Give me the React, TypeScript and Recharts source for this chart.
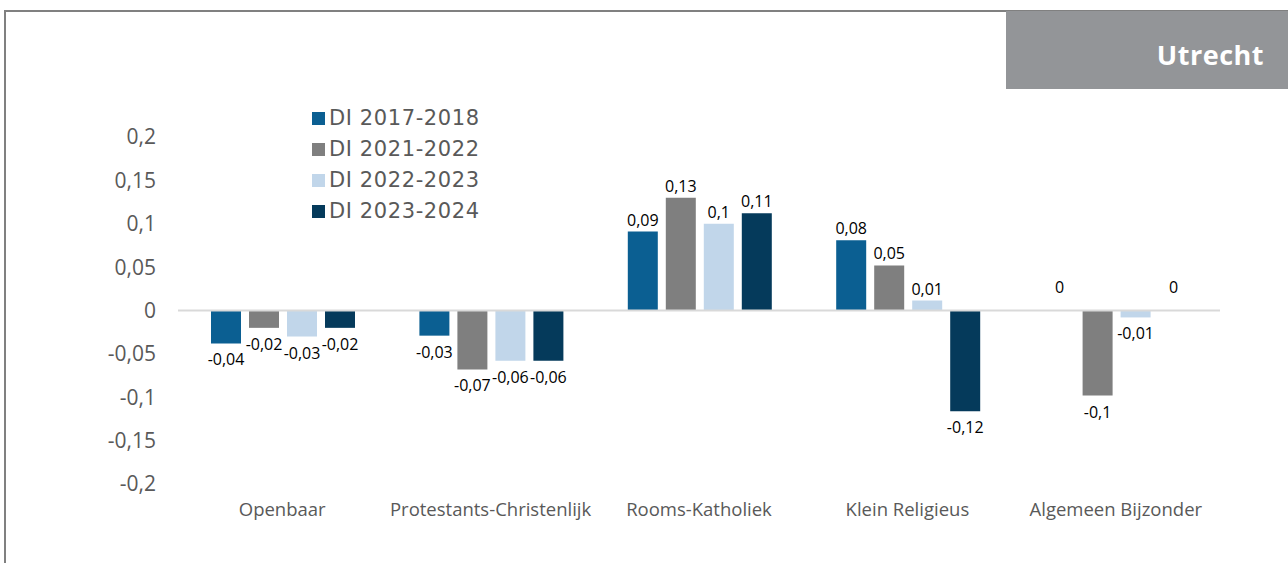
import React from 'react';
import { BarChart, Bar, XAxis, YAxis, ReferenceLine, Legend } from 'recharts';

const categories = ['Openbaar', 'Protestants-Christenlijk', 'Rooms-Katholiek', 'Klein Religieus', 'Algemeen Bijzonder'];
const di20172018 = [-0.038, -0.029, 0.091, 0.081, 0];
const di20212022 = [-0.02, -0.068, 0.13, 0.052, -0.098];
const di20222023 = [-0.03, -0.058, 0.1, 0.0115, -0.008];
const di20232024 = [-0.02, -0.058, 0.112, -0.116, 0];
const seriesNames = ['DI 2017-2018', 'DI 2021-2022', 'DI 2022-2023', 'DI 2023-2024'];
const seriesKeys = ['s1', 's2', 's3', 's4'];
const seriesColors = ['#0B5F92', '#7F7F7F', '#C1D6EA', '#053A5B'];
const yTicks = [0.2, 0.15, 0.1, 0.05, 0, -0.05, -0.1, -0.15, -0.2];
const title = 'Utrecht';

const data = categories.map((name, i) => ({
  name,
  s1: di20172018[i],
  s2: di20212022[i],
  s3: di20222023[i],
  s4: di20232024[i],
}));

const fmt = (v: number) => String(Math.round(v * 100) / 100).replace('.', ',');

const renderLabel = (props: any) => {
  const { x, y, width, height, value } = props;
  if (value === undefined || value === null) return null;
  const top = Math.min(y, y + height);
  const bottom = Math.max(y, y + height);
  const cx = x + width / 2;
  let ty: number;
  if (value > 0) ty = top - 6;
  else if (value < 0) ty = bottom + 22;
  else ty = top - 17.5;
  return (
    <text x={cx} y={ty} textAnchor="middle" fill="#000" fontSize={16} fontFamily="Open Sans">
      {fmt(value)}
    </text>
  );
};

const CategoryTick = (props: any) => {
  const { x, y, payload } = props;
  return (
    <text x={x} y={y + 32} textAnchor="middle" fill="#595959" fontSize={18.5} fontFamily="Open Sans">
      {payload.value}
    </text>
  );
};

const LegendContent = () => (
  <div style={{ display: 'flex', flexDirection: 'column' }}>
    {seriesNames.map((n, i) => (
      <div key={n} style={{ display: 'flex', alignItems: 'center', height: 31 }}>
        <div style={{ width: 13, height: 13, background: seriesColors[i], marginRight: 4 }} />
        <span
          style={{
            fontFamily: 'DejaVu Sans',
            fontSize: 21,
            color: '#595959',
            lineHeight: '31px',
            letterSpacing: 0.6,
          }}
        >
          {n}
        </span>
      </div>
    ))}
  </div>
);

export default function App() {
  return (
    <div style={{ position: 'absolute', left: 0, top: 0, width: 1288, height: 563, background: '#fff', overflow: 'hidden' }}>
      <div style={{ position: 'absolute', left: 4, top: 10, width: 1284, height: 2, background: '#808080' }} />
      <div style={{ position: 'absolute', left: 4, top: 10, width: 2, height: 553, background: '#808080' }} />
      <div
        style={{
          position: 'absolute',
          left: 1006,
          top: 11,
          width: 282,
          height: 78,
          background: '#939598',
        }}
      >
        <span
          style={{
            position: 'absolute',
            right: 24,
            top: 26,
            fontFamily: 'Open Sans',
            fontWeight: 700,
            fontSize: 27,
            lineHeight: '36px',
            color: '#fff',
            letterSpacing: 0.5,
          }}
        >
          {title}
        </span>
      </div>
      <div style={{ position: 'absolute', left: 0, top: 0 }}>
        <BarChart
          width={1288}
          height={563}
          data={data}
          margin={{ top: 137, right: 68, bottom: 49, left: 0 }}
          barCategoryGap={33}
          barGap={8}
        >
          <XAxis
            dataKey="name"
            axisLine={false}
            tickLine={false}
            tickSize={0}
            tickMargin={0}
            height={30}
            tick={<CategoryTick />}
            interval={0}
          />
          <YAxis
            type="number"
            domain={[-0.2, 0.2]}
            ticks={yTicks}
            width={178}
            axisLine={false}
            tickLine={false}
            tickSize={0}
            tickMargin={22}
            tickFormatter={fmt}
            tick={{ fill: '#595959', fontSize: 21, fontFamily: 'Open Sans' }}
            interval={0}
          />
          <ReferenceLine y={0} stroke="#D9D9D9" strokeWidth={2} />
          <Legend
            layout="vertical"
            align="center"
            verticalAlign="middle"
            content={<LegendContent />}
            wrapperStyle={{ position: 'absolute', left: 312, top: 103, width: 220, height: 124 }}
          />
          {seriesKeys.map((k, i) => (
            <Bar
              key={k}
              dataKey={k}
              name={seriesNames[i]}
              fill={seriesColors[i]}
              isAnimationActive={false}
              minPointSize={0.01}
              label={renderLabel}
            />
          ))}
        </BarChart>
      </div>
    </div>
  );
}
